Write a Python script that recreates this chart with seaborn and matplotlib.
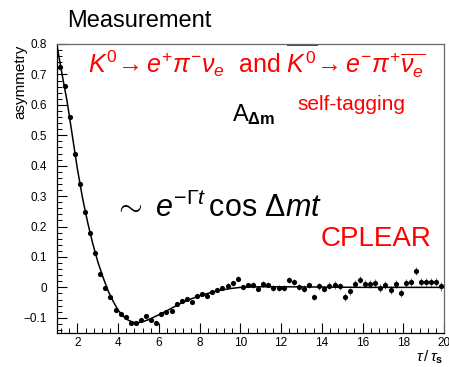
import numpy as np
import pandas as pd
import matplotlib
matplotlib.use('Agg')
import matplotlib.pyplot as plt
from matplotlib.ticker import MultipleLocator
import seaborn as sns

# measured asymmetry points (tau / tau_s, asymmetry, error)
tau = [1.125, 1.375, 1.625, 1.875, 2.125, 2.375, 2.625, 2.875, 3.125, 3.375,
       3.625, 3.875, 4.125, 4.375, 4.625, 4.875, 5.125, 5.375, 5.625, 5.875,
       6.125, 6.375, 6.625, 6.875, 7.125, 7.375, 7.625, 7.875, 8.125, 8.375,
       8.625, 8.875, 9.125, 9.375, 9.625, 9.875, 10.125, 10.375, 10.625, 10.875,
       11.125, 11.375, 11.625, 11.875, 12.125, 12.375, 12.625, 12.875, 13.125, 13.375,
       13.625, 13.875, 14.125, 14.375, 14.625, 14.875, 15.125, 15.375, 15.625, 15.875,
       16.125, 16.375, 16.625, 16.875, 17.125, 17.375, 17.625, 17.875, 18.125, 18.375,
       18.625, 18.875, 19.125, 19.375, 19.625, 19.875]
asym = [0.724, 0.661, 0.559, 0.439, 0.340, 0.247, 0.179, 0.113, 0.045, -0.002,
        -0.033, -0.073, -0.088, -0.099, -0.117, -0.117, -0.108, -0.093, -0.106, -0.117,
        -0.088, -0.081, -0.079, -0.054, -0.044, -0.037, -0.049, -0.030, -0.022, -0.027,
        -0.016, -0.008, -0.002, 0.006, 0.014, 0.029, 0.001, 0.008, 0.008, -0.004,
        0.011, 0.009, -0.002, -0.002, -0.002, 0.023, 0.017, 0.001, -0.004, 0.008,
        -0.032, 0.003, -0.005, 0.006, 0.008, 0.003, -0.032, -0.013, 0.012, 0.025,
        0.012, 0.011, 0.014, -0.003, 0.008, -0.008, 0.010, -0.019, 0.014, 0.017,
        0.055, 0.017, 0.018, 0.018, 0.017, 0.003]
err = [0.004, 0.004, 0.004, 0.004, 0.004, 0.004, 0.004, 0.004, 0.004, 0.004,
       0.004, 0.004, 0.005, 0.005, 0.005, 0.005, 0.005, 0.005, 0.005, 0.005,
       0.006, 0.006, 0.006, 0.006, 0.006, 0.006, 0.006, 0.006, 0.007, 0.007,
       0.007, 0.007, 0.008, 0.008, 0.008, 0.008, 0.008, 0.008, 0.009, 0.009,
       0.009, 0.009, 0.010, 0.010, 0.010, 0.010, 0.010, 0.010, 0.011, 0.011,
       0.011, 0.011, 0.011, 0.011, 0.012, 0.012, 0.012, 0.012, 0.012, 0.012,
       0.012, 0.012, 0.013, 0.013, 0.013, 0.013, 0.013, 0.013, 0.013, 0.013,
       0.013, 0.013, 0.014, 0.014, 0.014, 0.014]

# fitted curve
fit_tau = [1.0, 1.25, 1.5, 1.75, 2.0, 2.25, 2.5, 2.75, 3.0, 3.25,
           3.5, 3.75, 4.0, 4.25, 4.5, 4.75, 5.0, 5.25, 5.5, 5.75,
           6.0, 6.5, 7.0, 7.5, 8.0, 8.5, 9.0, 9.5, 10.0, 11.0,
           12.0, 14.0, 16.0, 18.0, 20.0]
fit_asym = [0.795, 0.700, 0.610, 0.500, 0.390, 0.295, 0.215, 0.145, 0.085, 0.035,
            -0.010, -0.045, -0.075, -0.095, -0.108, -0.115, -0.116, -0.112, -0.106, -0.098,
            -0.090, -0.073, -0.055, -0.040, -0.028, -0.018, -0.010, -0.004, 0.000, 0.002,
            0.002, 0.001, 0.000, 0.000, 0.000]

sns.set_style('ticks')
plt.rcParams['font.family'] = ['Liberation Sans', 'DejaVu Sans']
plt.rcParams['text.color'] = 'black'
plt.rcParams['xtick.color'] = 'black'
plt.rcParams['ytick.color'] = 'black'
plt.rcParams['mathtext.fontset'] = 'custom'
plt.rcParams['mathtext.rm'] = 'Liberation Sans'
plt.rcParams['mathtext.it'] = 'Liberation Sans:italic'
plt.rcParams['mathtext.bf'] = 'Liberation Sans:bold'
plt.rcParams['mathtext.sf'] = 'Liberation Sans'

points = pd.DataFrame({'tau': tau, 'asym': asym, 'err': err})
fit = pd.DataFrame({'tau': fit_tau, 'asym': fit_asym})

fig = plt.figure(figsize=(4.49, 3.67), dpi=100)
ax = fig.add_axes([57 / 449, 1 - 333 / 367, 387 / 449, 289 / 367])

ax.errorbar(points['tau'], points['asym'], yerr=points['err'], fmt='none',
            ecolor='0.45', elinewidth=0.8, zorder=2)
sns.lineplot(data=fit, x='tau', y='asym', color='black', linewidth=1.1, ax=ax, zorder=3)
sns.scatterplot(data=points, x='tau', y='asym', color='black', s=14, linewidth=0, ax=ax, zorder=4)

ax.set_xlim(1, 20)
ax.set_ylim(-0.15, 0.8)
ax.set_xlabel('')
ax.set_ylabel('')
ax.xaxis.set_major_locator(MultipleLocator(2))
ax.xaxis.set_minor_locator(MultipleLocator(0.4))
ax.yaxis.set_major_locator(MultipleLocator(0.1))
ax.yaxis.set_minor_locator(MultipleLocator(0.02))
ax.set_yticks([-0.1, 0, 0.1, 0.2, 0.3, 0.4, 0.5, 0.6, 0.7, 0.8])
ax.set_yticklabels(['\u22120.1', '0', '0.1', '0.2', '0.3', '0.4', '0.5', '0.6', '0.7', '0.8'])
ax.tick_params(which='major', direction='in', length=7, width=0.8, labelsize=8.5, pad=3)
ax.tick_params(which='minor', direction='in', length=3.5, width=0.7)
ax.tick_params(axis='y', which='major', pad=7)
for side in ['top', 'right', 'left', 'bottom']:
    ax.spines[side].set_visible(True)
    ax.spines[side].set_linewidth(0.9)
    ax.spines[side].set_color('black')
ax.spines['top'].set_color('0.4')
ax.spines['right'].set_color('0.4')

ax.text(2.52, 0.702, r'$K^0\!\rightarrow e^{+}\pi^{-}\nu_e$  and $\overline{K^0}\!\rightarrow e^{-}\pi^{+}\overline{\nu_e}$',
        color='red', fontsize=18, ha='left', va='baseline')
ax.text(12.79, 0.584, 'self-tagging', color='red', fontsize=15, ha='left', va='baseline')
ax.text(9.6, 0.545, r'$\mathrm{A}_{\mathbf{\Delta m}}$', color='black', fontsize=17, ha='left', va='baseline')
ax.text(3.75, 0.232, r'$\sim\ e^{-\Gamma t}\,\mathrm{cos}\ \Delta mt$', color='black', fontsize=22,
        ha='left', va='baseline')
ax.text(13.92, 0.137, 'CPLEAR', color='red', fontsize=20, ha='left', va='baseline')

fig.text(67 / 449, 1 - 27 / 367, 'Measurement', fontsize=17, ha='left', va='baseline', color='black')
fig.text(20 / 449, 1 - 45 / 367, 'asymmetry', fontsize=11, rotation=90, ha='center', va='top', color='black')
fig.text(443 / 449, 1 - 362 / 367, r'$\tau\,/\,\tau_{\mathbf{s}}$', fontsize=11, ha='right', va='baseline')

fig.savefig('out.png', dpi=100)
